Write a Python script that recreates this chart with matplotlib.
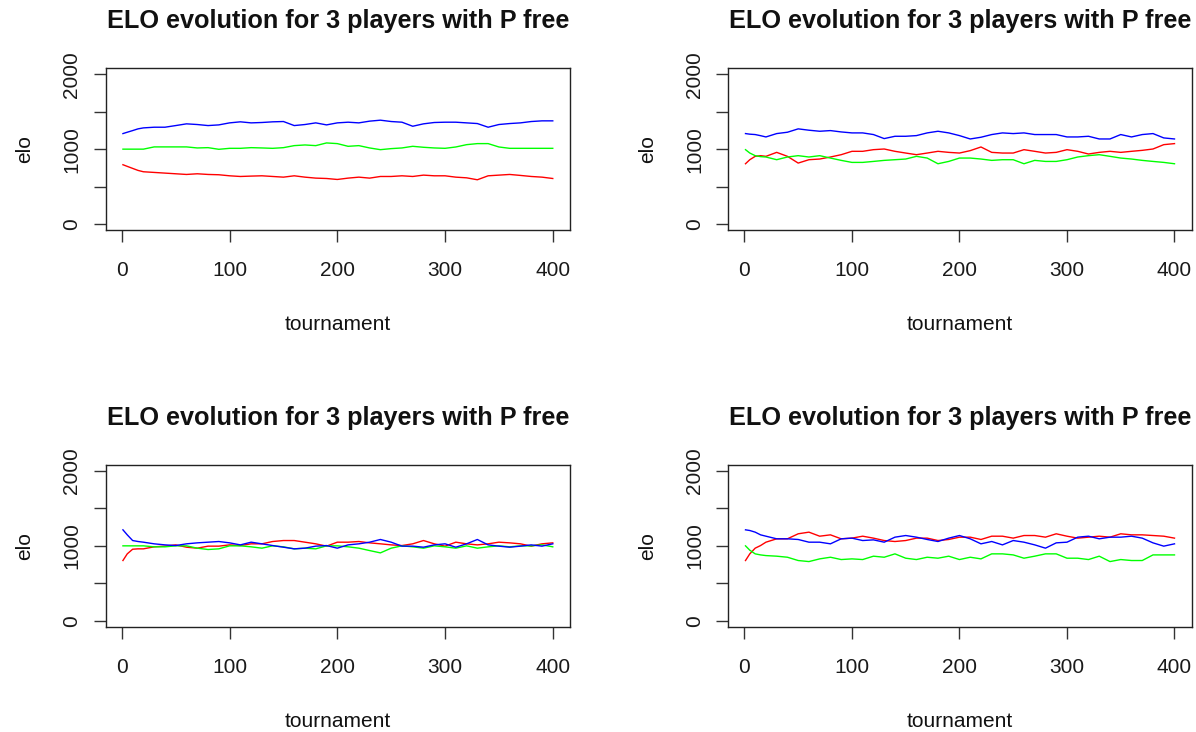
import matplotlib
matplotlib.use("Agg")
import matplotlib.pyplot as plt

# tournament sample points
tournament = [1, 5, 10, 15, 20, 30, 40, 50, 60, 70, 80, 90, 100, 110, 120, 130, 140, 150,
              160, 170, 180, 190, 200, 210, 220, 230, 240, 250, 260, 270, 280, 290, 300,
              310, 320, 330, 340, 350, 360, 370, 380, 390, 400]

# Panel 1 (top-left)
p1_red = [792, 770, 743, 716, 698, 689, 680, 671, 662, 671, 662, 658, 644, 635, 640, 644, 635, 626,
          644, 626, 613, 608, 595, 613, 626, 613, 635, 635, 644, 635, 653, 644, 644,
          626, 617, 591, 644, 653, 662, 649, 635, 626, 608]
p1_green = [1000, 1000, 1000, 1000, 1000, 1030, 1030, 1030, 1030, 1016, 1020, 998, 1011, 1011, 1020, 1016, 1011, 1020,
            1047, 1056, 1047, 1083, 1074, 1038, 1047, 1016, 993, 1007, 1016, 1038, 1025, 1016, 1011,
            1029, 1060, 1074, 1074, 1029, 1011, 1011, 1011, 1011, 1011]
p1_blue = [1208, 1226, 1248, 1271, 1284, 1293, 1293, 1315, 1338, 1329, 1315, 1324, 1351, 1365, 1351, 1356, 1365, 1369,
           1315, 1329, 1351, 1324, 1351, 1360, 1351, 1374, 1387, 1369, 1360, 1306, 1338, 1356, 1360,
           1360, 1351, 1342, 1293, 1329, 1342, 1351, 1369, 1378, 1378]

# Panel 2 (top-right)
p2_red = [805, 859, 904, 913, 904, 957, 904, 814, 859, 868, 895, 926, 971, 971, 993, 1002, 971, 948,
          926, 948, 971, 957, 948, 980, 1029, 957, 948, 948, 993, 971, 948, 957, 993,
          971, 935, 957, 971, 957, 971, 984, 1002, 1060, 1074]
p2_green = [993, 948, 913, 900, 895, 859, 895, 913, 895, 913, 881, 850, 823, 823, 836, 850, 859, 868,
            904, 881, 805, 836, 881, 881, 868, 850, 859, 859, 805, 850, 836, 836, 859,
            895, 913, 926, 904, 881, 868, 850, 836, 823, 805]
p2_blue = [1208, 1200, 1195, 1180, 1163, 1208, 1226, 1271, 1253, 1239, 1248, 1230, 1217, 1217, 1195, 1141, 1172, 1172,
           1181, 1217, 1239, 1217, 1181, 1136, 1159, 1195, 1217, 1208, 1217, 1195, 1195, 1195, 1163,
           1163, 1172, 1136, 1136, 1195, 1163, 1195, 1208, 1150, 1136]

# Panel 3 (bottom-left)
p3_red = [804, 893, 955, 960, 960, 987, 996, 1013, 982, 969, 996, 996, 1013, 1004, 1027, 1027, 1058, 1071,
          1071, 1049, 1027, 996, 1049, 1049, 1058, 1040, 1027, 1013, 1004, 1027, 1071, 1027, 996,
          1049, 1027, 1013, 1027, 1049, 1040, 1027, 996, 1027, 1040]
p3_green = [1000, 1000, 1000, 1000, 1000, 987, 987, 1000, 1000, 969, 951, 960, 1000, 1000, 987, 969, 1000, 987,
            960, 969, 960, 1000, 1000, 987, 969, 937, 906, 969, 1000, 987, 969, 1000, 987,
            969, 1000, 969, 987, 1000, 987, 1000, 1000, 1013, 987]
p3_blue = [1214, 1147, 1071, 1058, 1049, 1027, 1013, 1004, 1027, 1040, 1049, 1058, 1040, 1013, 1049, 1027, 1004, 982,
           960, 969, 996, 1004, 969, 1013, 1027, 1049, 1085, 1049, 996, 996, 982, 1013, 1027,
           982, 1027, 1085, 1013, 996, 982, 996, 1013, 996, 1027]

# Panel 4 (bottom-right)
p4_red = [804, 893, 969, 1004, 1049, 1094, 1094, 1161, 1183, 1129, 1147, 1094, 1103, 1129, 1103, 1071, 1058, 1071,
          1103, 1103, 1071, 1085, 1116, 1116, 1085, 1129, 1129, 1103, 1138, 1138, 1116, 1161, 1129,
          1103, 1116, 1129, 1116, 1161, 1147, 1147, 1138, 1129, 1103]
p4_green = [1000, 942, 893, 879, 870, 862, 848, 804, 790, 826, 848, 817, 826, 817, 862, 848, 893, 835,
            817, 848, 835, 862, 817, 848, 826, 893, 893, 879, 835, 862, 893, 893, 835,
            835, 817, 862, 790, 817, 804, 804, 879, 879, 879]
p4_blue = [1214, 1205, 1183, 1147, 1129, 1094, 1094, 1085, 1049, 1049, 1027, 1094, 1103, 1071, 1080, 1049, 1116, 1138,
           1116, 1085, 1058, 1103, 1138, 1094, 1027, 1058, 1013, 1071, 1049, 1013, 969, 1040, 1049,
           1116, 1129, 1094, 1116, 1116, 1129, 1103, 1040, 996, 1027]

panels = [(p1_red, p1_green, p1_blue), (p2_red, p2_green, p2_blue),
          (p3_red, p3_green, p3_blue), (p4_red, p4_green, p4_blue)]

title = "ELO evolution for 3 players with P free"
xticks = [0, 100, 200, 300, 400]
yticks = [0, 500, 1000, 1500, 2000]
ytick_labels = ["0", "", "1000", "", "2000"]

plt.rcParams['font.family'] = ['Liberation Sans', 'DejaVu Sans']

W, H = 1196, 732
fig = plt.figure(figsize=(W / 100, H / 100), dpi=100)

# axes boxes in pixels: (left, right, top, bottom)
boxes = [(105.7, 570.0, 68.3, 230.0), (728.3, 1191.7, 68.3, 230.0),
         (105.7, 570.0, 465.0, 626.7), (728.3, 1191.7, 465.0, 626.7)]

for (l, r, t, b), (red, green, blue) in zip(boxes, panels):
    ax = fig.add_axes([l / W, 1 - b / H, (r - l) / W, (b - t) / H])
    ax.plot(tournament, red, color="#FF0000", lw=1.0)
    ax.plot(tournament, green, color="#00FF00", lw=1.0)
    ax.plot(tournament, blue, color="#0000FF", lw=1.0)
    ax.set_xlim(-15, 416)
    ax.set_ylim(-80, 2080)
    ax.set_xticks(xticks)
    ax.set_yticks(yticks)
    ax.set_yticklabels(ytick_labels, rotation=90, va="center")
    ax.tick_params(direction="out", length=8.5, width=1.0, color="#333333",
                   labelsize=15, labelcolor="#1a1a1a")
    ax.tick_params(axis="x", pad=14)
    ax.tick_params(axis="y", pad=9)
    for s in ax.spines.values():
        s.set_linewidth(1.0)
        s.set_color("#222222")
    ax.set_title(title, fontsize=18.2, fontweight="bold", pad=29, color="#111111")
    ax.set_xlabel("tournament", fontsize=15, labelpad=25, color="#111111")
    ax.set_ylabel("elo", fontsize=15, labelpad=20, color="#111111")

fig.savefig("out.png", dpi=100)
